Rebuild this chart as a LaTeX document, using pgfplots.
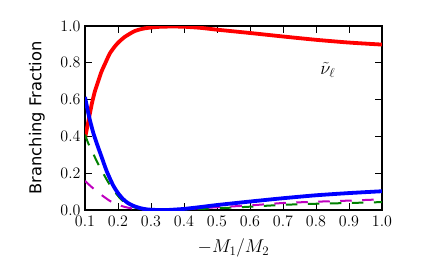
\RequirePackage{fix-cm}
\documentclass[border=0pt]{standalone}
\usepackage{fontspec}
\usepackage{pgfplots}
\pgfplotsset{compat=1.18}
\newfontfamily\dejavu{DejaVu Sans}
\definecolor{mplgreen}{rgb}{0,0.5,0}
\definecolor{mplmag}{rgb}{0.75,0,0.75}
\begin{document}
\begin{tikzpicture}
\useasboundingbox (0,0) rectangle (425pt,263pt);
\begin{axis}[
  at={(85pt,53pt)}, anchor=south west,
  width=297pt, height=184pt, scale only axis,
  xmin=0.1, xmax=1.0, ymin=0, ymax=1.0,
  xtick={0.1,0.2,0.3,0.4,0.5,0.6,0.7,0.8,0.9,1.0},
  ytick={0,0.2,0.4,0.6,0.8,1.0},
  tick align=inside, major tick length=7pt,
  tick style={line width=0.9pt, black},
  axis line style={line width=1.4pt},
  xticklabel style={/pgf/number format/.cd,fixed,fixed zerofill,precision=1,/tikz/.cd,yshift=-3pt},
  yticklabel style={/pgf/number format/.cd,fixed,fixed zerofill,precision=1,/tikz/.cd,xshift=-1pt},
  tick label style={font=\fontsize{16}{19}\selectfont},
  xlabel={$-M_1/M_2$},
  ylabel={\dejavu Branching Fraction},
  xlabel style={font=\fontsize{18.5}{22}\selectfont, at={(axis description cs:0.5,-0.205)}, anchor=center},
  ylabel style={font=\fontsize{16.3}{19}\selectfont, at={(axis description cs:-0.162,0.5)}, anchor=center},
]
\addplot[red, line width=3.8pt, smooth, tension=0.4] table {
0.100 0.390
0.110 0.480
0.121 0.580
0.130 0.645
0.140 0.700
0.150 0.752
0.162 0.800
0.175 0.850
0.190 0.888
0.202 0.912
0.220 0.940
0.250 0.972
0.280 0.987
0.320 0.995
0.360 0.997
0.400 0.996
0.450 0.990
0.500 0.980
0.600 0.962
0.700 0.943
0.800 0.925
0.900 0.910
1.000 0.899
};
\addplot[mplgreen, line width=2pt, dash pattern=on 11.5pt off 10.5pt, smooth, tension=0.4] table {
0.100 0.410
0.110 0.362
0.125 0.305
0.140 0.250
0.155 0.200
0.170 0.152
0.186 0.109
0.206 0.064
0.225 0.035
0.250 0.014
0.280 0.003
0.320 0.000
0.380 0.002
0.450 0.006
0.500 0.009
0.600 0.018
0.700 0.028
0.800 0.034
0.900 0.038
1.000 0.043
};
\addplot[mplmag, line width=2pt, dash pattern=on 11.5pt off 10.5pt, smooth, tension=0.4] table {
0.100 0.158
0.120 0.125
0.140 0.096
0.155 0.075
0.175 0.050
0.196 0.031
0.220 0.017
0.241 0.009
0.270 0.003
0.310 0.000
0.400 0.005
0.500 0.015
0.600 0.025
0.700 0.038
0.800 0.045
0.900 0.051
1.000 0.058
};
\addplot[blue, line width=3.8pt, smooth, tension=0.4] table {
0.100 0.614
0.112 0.510
0.125 0.420
0.138 0.350
0.150 0.290
0.166 0.210
0.185 0.135
0.200 0.092
0.215 0.060
0.230 0.038
0.250 0.020
0.270 0.009
0.290 0.003
0.320 0.000
0.350 0.000
0.400 0.006
0.450 0.016
0.500 0.027
0.600 0.046
0.700 0.064
0.800 0.080
0.900 0.092
1.000 0.102
};
\node[font=\fontsize{18.5}{22}\selectfont] at (axis cs:0.836,0.76) {$\tilde{\nu}_\ell$};
\end{axis}
\end{tikzpicture}
\end{document}
